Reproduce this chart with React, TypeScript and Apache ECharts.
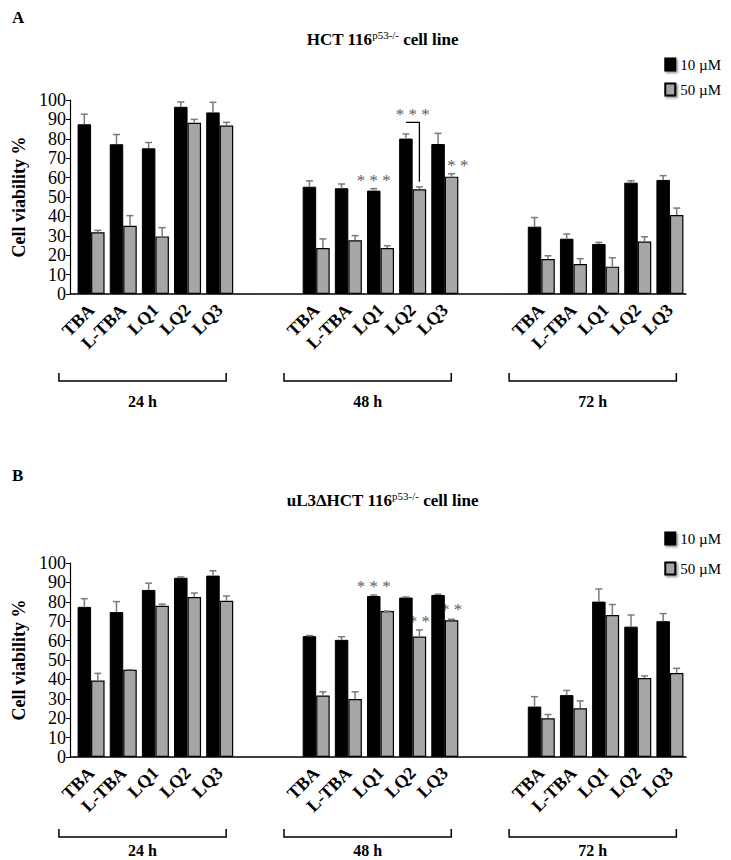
import React, { useEffect, useRef } from "react";
import * as echarts from "echarts";

// ---- data ----
const groups = ["24 h", "48 h", "72 h"];
const compounds = ["TBA", "L-TBA", "LQ1", "LQ2", "LQ3"];
const seriesNames = ["10 µM", "50 µM"];
const yMin = 0;
const yMax = 100;
const yInterval = 10;

// Panel A: HCT 116 p53-/-
const a10 = [87.5, 77.2, 75.1, 96.5, 93.6, 55.3, 54.5, 53.3, 80.1, 77.3, 34.7, 28.5, 25.8, 57.4, 58.8];
const a10err = [5.2, 5, 3, 2.5, 5.2, 3, 2.2, 1, 2.4, 5.5, 4.7, 2.4, 0.8, 1, 2.2];
const a50 = [31.8, 35.2, 29.7, 88.3, 86.8, 23.7, 27.7, 23.7, 54, 60.5, 18, 15.5, 14.1, 27, 40.7];
const a50err = [1, 5.2, 4.5, 1.7, 1.7, 4.7, 2.4, 1.2, 1.2, 1.5, 1.7, 2.7, 4.6, 2.5, 3.6];

// Panel B: uL3ΔHCT 116 p53-/-
const b10 = [77.4, 74.7, 86.1, 92.4, 93.5, 62.3, 60.4, 83, 82.2, 83.5, 26, 31.9, 80.1, 67.2, 70];
const b10err = [4.2, 5.4, 3.5, 0.4, 2.5, 0.3, 1.6, 0.5, 0.3, 0.4, 5.1, 2.4, 6.5, 6, 3.9];
const b50 = [39.4, 45, 77.9, 82.5, 80.5, 31.7, 29.9, 75.2, 62.1, 70.5, 20, 25.1, 73.2, 40.7, 43.3];
const b50err = [3.7, 0, 0.9, 2, 2.5, 1.9, 3.7, 0, 3.4, 0.5, 1.9, 3.8, 5.4, 1.1, 2.4];

// significance annotations (group, compound, bar side, value level, text)
const sigA = [
  { g: 1, c: 2, side: -1, v: 58.4, t: "* * *" },
  { g: 1, c: 4, side: 1, v: 66, t: "* * *" },
];
const bracketA = { g: 1, c: 3, top: 88.5, bottom: 57.9, label: 92.3, t: "* * *" };
const sigB = [
  { g: 1, c: 2, side: -1, v: 88, t: "* * *" },
  { g: 1, c: 3, side: 1, v: 69.7, t: "* *" },
  { g: 1, c: 4, side: 1, v: 75.8, t: "* *" },
];

const panels = [
  { letter: "A", pre: "HCT 116", v10: a10, e10: a10err, v50: a50, e50: a50err },
  { letter: "B", pre: "uL3ΔHCT 116", v10: b10, e10: b10err, v50: b50, e50: b50err },
];

// ---- layout ----
const FONT = "Liberation Serif";
const GAP = 0.16;
const gridTops = [100, 563];
const GRID_H = 194;
const GRID_L = 75;
const GRID_W = 611;
const titleY = [39, 500];
const letterY = [17, 475];
const legendTop = [52, 526];
const legendGap = [10, 15];
const bracketDy = [87, 80];
const groupLabelDy = [107, 93];

const SLOT_STEP = compounds.length + 2;
const slotOf = (g: number, c: number) => g * SLOT_STEP + c;
const categories: string[] = [];
groups.forEach((_, g) => {
  compounds.forEach((c) => categories.push(c));
  if (g < groups.length - 1) {
    categories.push("");
    categories.push("");
  }
});
const toSlots = (vals: number[]) => {
  const arr: (number | string)[] = categories.map(() => "-");
  vals.forEach((v, i) => {
    arr[slotOf(Math.floor(i / compounds.length), i % compounds.length)] = v;
  });
  return arr;
};
const toErr = (vals: number[], errs: number[]) =>
  vals.map((v, i) => [slotOf(Math.floor(i / compounds.length), i % compounds.length), v, errs[i]]);

const errRender = (side: number) => (params: any, api: any) => {
  const slot = api.value(0);
  const v = api.value(1);
  const e = api.value(2);
  const band = api.size([1, 0])[0];
  const off = ((band * (1 - GAP)) / 4) * side;
  const p0 = api.coord([slot, v]);
  const p1 = api.coord([slot, v + e]);
  const x = p0[0] + off;
  const st = { stroke: "#7a7a7a", lineWidth: 1.5 };
  return {
    type: "group",
    children: [
      { type: "line", shape: { x1: x, y1: p0[1], x2: x, y2: p1[1] }, style: st },
      { type: "line", shape: { x1: x - 3.5, y1: p1[1], x2: x + 3.5, y2: p1[1] }, style: st },
    ],
  };
};

export default function App() {
  const ref = useRef<HTMLDivElement>(null);
  useEffect(() => {
    document.body.style.margin = "0";
    const chart = echarts.init(ref.current!, undefined, { renderer: "svg" });
    const grid: any[] = [];
    const xAxis: any[] = [];
    const yAxis: any[] = [];
    const series: any[] = [];
    const legend: any[] = [];
    panels.forEach((p, i) => {
      grid.push({ left: GRID_L, top: gridTops[i], width: GRID_W, height: GRID_H });
      xAxis.push({
        type: "category",
        gridIndex: i,
        data: categories,
        axisLine: { lineStyle: { color: "#000", width: 1.5 } },
        axisTick: { show: false },
        axisLabel: {
          interval: 0,
          rotate: 45,
          margin: 13,
          fontFamily: FONT,
          fontWeight: "bold",
          fontSize: 18,
          color: "#000",
        },
      });
      yAxis.push({
        type: "value",
        gridIndex: i,
        min: yMin,
        max: yMax,
        interval: yInterval,
        offset: 5,
        axisLine: { show: true, lineStyle: { color: "#000", width: 1.2 } },
        axisTick: { show: true, length: 4, lineStyle: { color: "#000" } },
        splitLine: { show: false },
        axisLabel: { fontFamily: FONT, fontSize: 18, color: "#000", margin: 4 },
        name: "Cell viability %",
        nameLocation: "middle",
        nameGap: 40,
        nameTextStyle: { fontFamily: FONT, fontWeight: "bold", fontSize: 18, color: "#000" },
      });
      series.push({
        name: seriesNames[0],
        type: "bar",
        xAxisIndex: i,
        yAxisIndex: i,
        data: toSlots(p.v10),
        barGap: "0%",
        barCategoryGap: GAP * 100 + "%",
        itemStyle: { color: "#000", borderColor: "#000", borderWidth: 1 },
      });
      series.push({
        name: seriesNames[1],
        type: "bar",
        xAxisIndex: i,
        yAxisIndex: i,
        data: toSlots(p.v50),
        barGap: "0%",
        barCategoryGap: GAP * 100 + "%",
        itemStyle: { color: "#a6a6a6", borderColor: "#000", borderWidth: 1.2 },
      });
      series.push({
        type: "custom",
        xAxisIndex: i,
        yAxisIndex: i,
        data: toErr(p.v10, p.e10),
        encode: { x: 0, y: 1 },
        renderItem: errRender(-1),
        z: 5,
        silent: true,
      });
      series.push({
        type: "custom",
        xAxisIndex: i,
        yAxisIndex: i,
        data: toErr(p.v50, p.e50),
        encode: { x: 0, y: 1 },
        renderItem: errRender(1),
        z: 5,
        silent: true,
      });
      legend.push({
        data: seriesNames,
        orient: "vertical",
        right: 5,
        top: legendTop[i],
        itemWidth: 10,
        itemHeight: 12,
        itemGap: legendGap[i],
        icon: "rect",
        itemStyle: { shadowBlur: 2, shadowColor: "rgba(0,0,0,0.45)", shadowOffsetX: 1.5, shadowOffsetY: 1.5 },
        textStyle: { fontFamily: FONT, fontSize: 15, color: "#000" },
      });
    });

    chart.setOption({ animation: false, backgroundColor: "#fff", grid, xAxis, yAxis, series, legend });

    // annotations computed from the axes
    const graphic: any[] = [];
    const px = (i: number, slot: number, v: number) => chart.convertToPixel({ gridIndex: i }, [slot, v]) as number[];
    panels.forEach((p, i) => {
      const band = px(i, 1, 0)[0] - px(i, 0, 0)[0];
      const half = (band * (1 - GAP)) / 4;
      const axisY = px(i, 0, 0)[1];
      const yAxisX = px(i, 0, 0)[0] - band / 2 - 5;
      graphic.push({
        type: "line",
        shape: { x1: yAxisX, y1: axisY, x2: px(i, 0, 0)[0] - band / 2, y2: axisY },
        style: { stroke: "#000", lineWidth: 1.5 },
      });
      graphic.push({
        type: "text",
        x: 12,
        y: letterY[i],
        style: { text: p.letter, font: `bold 17px ${FONT}`, fill: "#000", verticalAlign: "middle" },
      });
      graphic.push({
        type: "text",
        x: GRID_L + GRID_W / 2 + 2,
        y: titleY[i],
        style: {
          text: `{b|${p.pre}}{s|p53-/-}{b| cell line}`,
          align: "center",
          verticalAlign: "middle",
          rich: {
            b: { fontFamily: FONT, fontWeight: "bold", fontSize: 17, lineHeight: 20, fill: "#000" },
            s: { fontFamily: FONT, fontSize: 11, lineHeight: 11, verticalAlign: "top", fill: "#000" },
          },
        },
      });
      groups.forEach((gl, g) => {
        const x1 = px(i, slotOf(g, 0), 0)[0] - band;
        const x2 = px(i, slotOf(g, compounds.length - 1), 0)[0] + band * 0.2;
        const by = axisY + bracketDy[i];
        graphic.push({
          type: "polyline",
          shape: { points: [[x1, by - 8], [x1, by], [x2, by], [x2, by - 8]] },
          style: { stroke: "#000", lineWidth: 1.5, fill: null },
        });
        graphic.push({
          type: "text",
          x: (x1 + x2) / 2,
          y: axisY + groupLabelDy[i],
          style: { text: gl, font: `bold 16px ${FONT}`, fill: "#000", align: "center", verticalAlign: "middle" },
        });
      });
      const sigs = i === 0 ? sigA : sigB;
      const sigFont = `17px ${FONT}`;
      sigs.forEach((s) => {
        const pt = px(i, slotOf(s.g, s.c), s.v);
        graphic.push({
          type: "text",
          x: pt[0] + half * s.side,
          y: pt[1],
          style: { text: s.t, font: sigFont, fill: "#606060", align: "center", verticalAlign: "middle" },
        });
      });
      if (i === 0) {
        const sl = slotOf(bracketA.g, bracketA.c);
        const top = px(i, sl, bracketA.top);
        const bot = px(i, sl, bracketA.bottom);
        const lab = px(i, sl, bracketA.label);
        const xl = top[0] - half;
        const xr = top[0] + half;
        graphic.push({
          type: "polyline",
          shape: { points: [[xl, top[1]], [xr, top[1]], [xr, bot[1]]] },
          style: { stroke: "#000", lineWidth: 1.3, fill: null },
        });
        graphic.push({
          type: "text",
          x: lab[0],
          y: lab[1],
          style: { text: bracketA.t, font: sigFont, fill: "#606060", align: "center", verticalAlign: "middle" },
        });
      }
    });
    chart.setOption({ graphic });
    return () => chart.dispose();
  }, []);
  return <div ref={ref} style={{ position: "absolute", left: 0, top: 0, width: 731, height: 860 }} />;
}
